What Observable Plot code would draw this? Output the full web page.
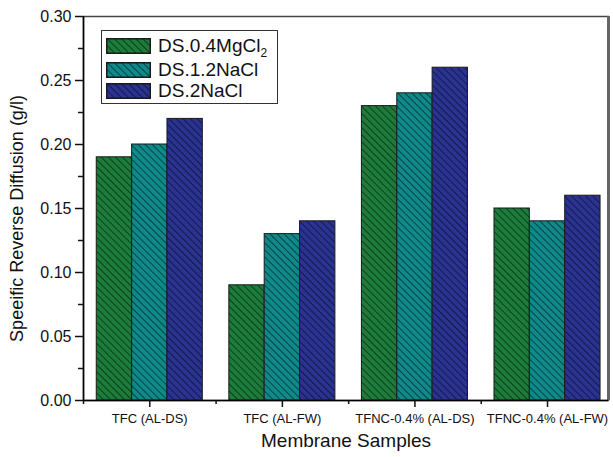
<!DOCTYPE html>
<html>
<head>
<meta charset="utf-8">
<script src="https://cdn.jsdelivr.net/npm/d3@7"></script>
<script src="https://cdn.jsdelivr.net/npm/@observablehq/plot@0.6"></script>
<style>
  html, body { margin: 0; padding: 0; background: #fff; }
  #chart { position: relative; width: 613px; height: 457px; font-family: "Liberation Sans", Arial, sans-serif; }
  #legend { position: absolute; left: 101px; top: 30px; width: 175px; height: 72px; border: 1.5px solid #333; background: #fff; box-sizing: content-box; }
  #legend .row { position: absolute; left: 4px; height: 18px; display: flex; align-items: center; font-size: 19px; color: #111; white-space: nowrap; }
  #legend svg { margin-right: 7px; }
  #legend sub { font-size: 12px; vertical-align: -5px; line-height: 0; }
</style>
</head>
<body>
<svg width="0" height="0" style="position:absolute">
  <defs id="defs"></defs>
</svg>
<div id="chart"><div id="legend"></div></div>
<script>
// ---- data ----
const groups = ["TFC (AL-DS)", "TFC (AL-FW)", "TFNC-0.4% (AL-DS)", "TFNC-0.4% (AL-FW)"];
const series = ["DS.0.4MgCl2", "DS.1.2NaCl", "DS.2NaCl"];
const mgcl2 = [0.19, 0.09, 0.23, 0.15];
const nacl12 = [0.20, 0.13, 0.24, 0.14];
const nacl2 = [0.22, 0.14, 0.26, 0.16];
const yTicks = [0, 0.05, 0.10, 0.15, 0.20, 0.25, 0.30];
const yMinorTicks = [0.025, 0.075, 0.125, 0.175, 0.225, 0.275];
const yLabel = "Speeific Reverse Diffusion (g/l)";
const xLabel = "Membrane Samples";

// ---- styling ----
const colors = ["#1c7d3b", "#10898b", "#2a3391"];
const patternIds = ["hatch0", "hatch1", "hatch2"];

const defs = document.getElementById("defs");
const NS = "http://www.w3.org/2000/svg";
colors.forEach((c, i) => {
  const p = document.createElementNS(NS, "pattern");
  p.setAttribute("id", patternIds[i]);
  p.setAttribute("patternUnits", "userSpaceOnUse");
  p.setAttribute("width", "5");
  p.setAttribute("height", "5");
  p.setAttribute("patternTransform", "rotate(-45)");
  const r = document.createElementNS(NS, "rect");
  r.setAttribute("width", "5"); r.setAttribute("height", "5"); r.setAttribute("fill", c);
  const l = document.createElementNS(NS, "line");
  l.setAttribute("x1", "0.5"); l.setAttribute("y1", "0"); l.setAttribute("x2", "0.5"); l.setAttribute("y2", "5");
  l.setAttribute("stroke", "#000"); l.setAttribute("stroke-opacity", "0.5"); l.setAttribute("stroke-width", "1");
  p.appendChild(r); p.appendChild(l);
  defs.appendChild(p);
});

const seriesValues = [mgcl2, nacl12, nacl2];
const data = [];
groups.forEach((g, gi) => {
  series.forEach((s, si) => {
    data.push({group: g, gi: gi + 1, series: s, si, value: seriesValues[si][gi]});
  });
});

const SPAN = 0.8; // fraction of a group slot used by bars
const bw = SPAN / series.length;

const chart = Plot.plot({
  width: 613,
  height: 457,
  marginLeft: 83,
  marginRight: 5,
  marginTop: 16,
  marginBottom: 57,
  style: {fontFamily: "'Liberation Sans', Arial, sans-serif", color: "#111", background: "#fff"},
  x: {type: "linear", domain: [0.5, 4.46], axis: null},
  y: {domain: [0, 0.30], axis: null},
  color: {domain: series, range: patternIds.map(id => `url(#${id})`)},
  marks: [
    Plot.rectY(data, {
      x1: d => d.gi - SPAN / 2 + d.si * bw,
      x2: d => d.gi - SPAN / 2 + (d.si + 1) * bw,
      y: "value",
      fill: "series",
      stroke: "#1a1a1a",
      strokeWidth: 1
    }),
    Plot.frame({stroke: "#444", strokeWidth: 1.5}),
    Plot.ruleX([4.46], {stroke: "#666", strokeWidth: 3}),
    Plot.ruleX([0.5], {stroke: "#000", strokeWidth: 1.5}),
    Plot.ruleY([0], {stroke: "#000", strokeWidth: 1.5}),
    Plot.axisY({ticks: yTicks, tickFormat: d3.format(".2f"), tickSize: 8, tickPadding: 4, fontSize: 16, label: null, strokeWidth: 1.5}),
    Plot.axisY({ticks: yMinorTicks, tickFormat: () => "", tickSize: 5, label: null, strokeWidth: 1.5}),
    Plot.axisX({ticks: [1, 2, 3, 4], tickFormat: i => groups[i - 1], tickSize: 7, tickPadding: 6, fontSize: 13, label: null, strokeWidth: 1.5}),
    Plot.axisX({ticks: [0.5, 1.5, 2.5, 3.5], tickFormat: () => "", tickSize: 4, label: null, strokeWidth: 1.5}),
    Plot.text([yLabel], {frameAnchor: "left", textAnchor: "middle", rotate: -90, dx: -66, dy: 10, fontSize: 18, fill: "#111"}),
    Plot.text([xLabel], {frameAnchor: "bottom", dy: 46, fontSize: 19, fill: "#111"})
  ]
});
const container = document.getElementById("chart");
container.insertBefore(chart, container.firstChild);

// legend built from series + pattern fills
const legend = document.getElementById("legend");
const rowTops = [6, 30, 51];
series.forEach((s, i) => {
  const row = document.createElement("div");
  row.className = "row";
  row.style.top = rowTops[i] + "px";
  row.innerHTML = `<svg width="45" height="16"><rect x="0.75" y="0.75" width="43.5" height="14.5" fill="url(#${patternIds[i]})" stroke="#1a1a1a" stroke-width="1.5"/></svg>` +
    `<span>${s.replace(/Cl(\d+)$/, "Cl<sub>$1</sub>")}</span>`;
  legend.appendChild(row);
});
</script>
</body>
</html>
